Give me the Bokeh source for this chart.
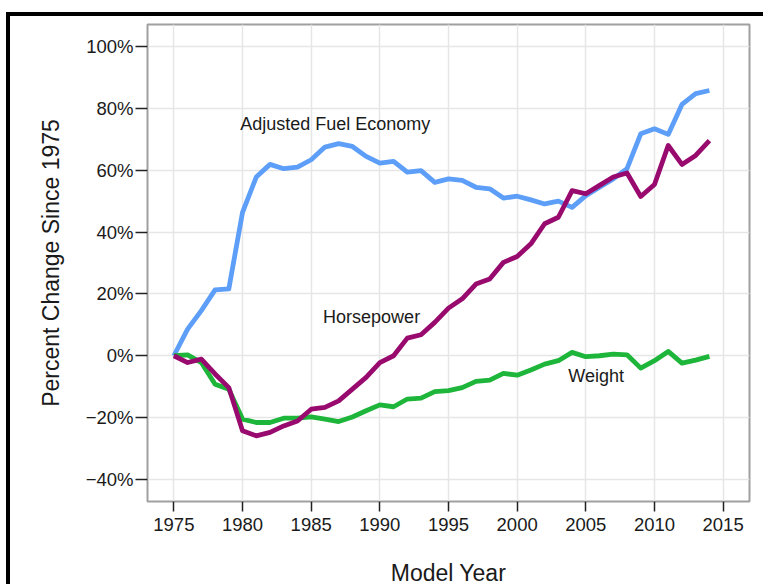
from bokeh.plotting import figure
from bokeh.models import FixedTicker, CustomJSTickFormatter, Range1d, ColumnDataSource
from bokeh.core.properties import value
from bokeh.embed import file_html
from bokeh.resources import INLINE

years = list(range(1975, 2015))
fuel_economy = [0, 8.6, 14.6, 21.3, 21.6, 46.4, 57.8, 61.9, 60.5, 61.0,
                63.4, 67.5, 68.6, 67.7, 64.5, 62.3, 62.9, 59.4, 59.9, 56.1,
                57.2, 56.7, 54.5, 54.0, 51.0, 51.6, 50.4, 49.1, 50.0, 48.0,
                51.8, 54.5, 57.2, 60.5, 71.8, 73.4, 71.6, 81.3, 84.8, 85.8]
horsepower = [0, -2.2, -1.1, -5.9, -10.3, -24.3, -25.9, -24.8, -22.7, -21.1,
              -17.3, -16.7, -14.6, -10.8, -7.0, -2.2, 0.0, 5.7, 6.8, 10.8,
              15.4, 18.4, 23.2, 24.8, 30.2, 32.1, 36.2, 42.7, 44.8, 53.4,
              52.4, 55.1, 57.8, 59.1, 51.5, 55.4, 68.0, 61.9, 64.8, 69.6]
weight = [0, 0.3, -2.2, -9.2, -10.8, -20.5, -21.6, -21.6, -20.2, -20.2,
          -19.8, -20.5, -21.3, -19.8, -17.8, -15.9, -16.5, -14.0, -13.7, -11.6,
          -11.3, -10.3, -8.3, -7.9, -5.7, -6.3, -4.6, -2.7, -1.6, 1.1,
          -0.3, 0.0, 0.5, 0.3, -4.0, -1.6, 1.4, -2.4, -1.4, -0.2]

label_text = ["Adjusted Fuel Economy", "Horsepower", "Weight"]
label_x = [1986.75, 1989.4, 2005.75]
label_y = [75.1, 12.6, -6.4]

x_ticks = [1975, 1980, 1985, 1990, 1995, 2000, 2005, 2010, 2015]
y_ticks = [-40, -20, 0, 20, 40, 60, 80, 100]

FONT = "Liberation Sans"
TEXT = "#1a1a1a"

p = figure(width=757, height=572, output_backend="svg", toolbar_location=None,
           x_range=Range1d(1973.08, 2016.92), y_range=Range1d(-47.15, 107.15),
           min_border_left=137, min_border_top=8, min_border_right=18,
           min_border_bottom=87)
p.styles = {"margin-top": "12px", "margin-left": "6px",
            "border-top": "4px solid black", "border-left": "4px solid black"}

p.background_fill_color = "white"
p.border_fill_color = "white"
p.outline_line_color = "#a0a0a0"
p.outline_line_width = 2

src = ColumnDataSource(dict(year=years, fe=fuel_economy, hp=horsepower, wt=weight))
p.line("year", "fe", source=src, line_color="#5c9ef8", line_width=4.8, line_join="round")
p.line("year", "wt", source=src, line_color="#1db53a", line_width=4.8, line_join="round")
p.line("year", "hp", source=src, line_color="#990a6e", line_width=4.8, line_join="round")

lsrc = ColumnDataSource(dict(x=label_x, y=label_y, t=label_text))
p.text("x", "y", "t", source=lsrc, text_align="center", text_baseline="middle",
       text_font=value(FONT), text_font_size="18px", text_color=TEXT)

p.xaxis.ticker = FixedTicker(ticks=x_ticks)
p.yaxis.ticker = FixedTicker(ticks=y_ticks)
p.xgrid.ticker = FixedTicker(ticks=x_ticks)
p.ygrid.ticker = FixedTicker(ticks=y_ticks)
p.yaxis.formatter = CustomJSTickFormatter(
    code="return (tick < 0 ? '\u2212' : '') + Math.abs(tick) + '%';")

for g in (p.xgrid, p.ygrid):
    g.grid_line_color = "#e6e6e6"
    g.grid_line_width = 1.5

for ax in (p.xaxis, p.yaxis):
    ax.axis_line_color = None
    ax.major_tick_line_color = "#222222"
    ax.major_tick_line_width = 1.5
    ax.major_tick_in = 0
    ax.minor_tick_line_color = None
    ax.major_label_text_font = FONT
    ax.major_label_text_font_size = "18.5px"
    ax.major_label_text_color = TEXT
    ax.axis_label_text_font = FONT
    ax.axis_label_text_font_size = "23px"
    ax.axis_label_text_font_style = "normal"
    ax.axis_label_text_color = TEXT

p.xaxis.major_tick_out = 10
p.yaxis.major_tick_out = 12
p.xaxis.major_label_standoff = 6
p.yaxis.major_label_standoff = 2
p.xaxis.axis_label = "Model Year"
p.yaxis.axis_label = "Percent Change Since 1975"
p.xaxis.axis_label_standoff = 26
p.yaxis.axis_label_standoff = 19

open("out.html", "w").write(file_html(p, INLINE))
